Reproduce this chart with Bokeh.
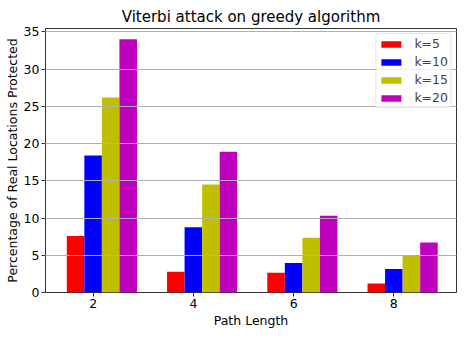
import numpy as np
from bokeh.plotting import figure
from bokeh.models import Range1d, FixedTicker, Legend, LegendItem
from bokeh.embed import file_html
from bokeh.resources import INLINE

# ---- data ----
path_lengths = [2, 4, 6, 8]
series_names = ["k=5", "k=10", "k=15", "k=20"]
k5 = [7.6, 2.8, 2.65, 1.2]
k10 = [18.4, 8.75, 3.95, 3.15]
k15 = [26.2, 14.5, 7.35, 4.95]
k20 = [34.0, 18.9, 10.3, 6.7]
colors = ["#ff0000", "#0000ff", "#bfbf00", "#bf00bf"]
bar_width = 0.35

FONT = "DejaVu Sans"

p = figure(width=461, height=330, output_backend="svg", toolbar_location=None,
           x_range=Range1d(1.05, 9.25), y_range=Range1d(0, 35.45),
           min_border_left=45, min_border_right=5, min_border_top=28, min_border_bottom=38,
           title="Viterbi attack on greedy algorithm")

p.title.align = "center"
p.title.text_font = FONT
p.title.text_font_size = "15px"
p.title.text_font_style = "normal"
p.title.text_color = "#000000"
p.title.standoff = 5

renderers = []
for i, (name, vals) in enumerate(zip(series_names, [k5, k10, k15, k20])):
    xs = np.array(path_lengths, dtype=float) + (i - 1) * bar_width
    r = p.vbar(x=xs, top=vals, bottom=0, width=bar_width, fill_color=colors[i],
               line_color=None)
    renderers.append((name, r))

# axes
p.xaxis.ticker = FixedTicker(ticks=path_lengths)
p.yaxis.ticker = FixedTicker(ticks=[0, 5, 10, 15, 20, 25, 30, 35])
for ax in (p.xaxis[0], p.yaxis[0]):
    ax.axis_line_color = None
    ax.major_tick_in = 0
    ax.major_tick_out = 4
    ax.minor_tick_line_color = None
    ax.major_tick_line_color = "#333333"
    ax.major_label_text_font = FONT
    ax.major_label_text_font_size = "12.5px"
    ax.major_label_text_color = "#000000"
    ax.axis_label_text_font = FONT
    ax.axis_label_text_font_size = "12.5px"
    ax.axis_label_text_font_style = "normal"
    ax.axis_label_text_color = "#000000"
    ax.major_label_standoff = 2
p.xaxis.axis_label = "Path Length"
p.yaxis.axis_label = "Percentage of Real Locations Protected"
p.xaxis.axis_label_standoff = 2
p.yaxis.axis_label_standoff = 1

p.outline_line_color = "#333333"
p.outline_line_width = 1
p.xgrid.grid_line_color = None
p.ygrid.grid_line_color = "#b0b0b0"
p.ygrid.grid_line_width = 1
p.ygrid.level = "guide"

legend = Legend(items=[LegendItem(label=n, renderers=[r]) for n, r in renderers],
                location="top_right")
legend.label_text_font = FONT
legend.label_text_font_size = "12.5px"
legend.glyph_width = 25
legend.glyph_height = 8
legend.label_height = 14
legend.spacing = 3
legend.padding = 2
legend.margin = 5
legend.label_standoff = 11
legend.border_line_color = "#cccccc"
legend.border_radius = 3
legend.background_fill_alpha = 0.8
p.add_layout(legend)

open("out.html", "w").write(file_html(p, INLINE))
